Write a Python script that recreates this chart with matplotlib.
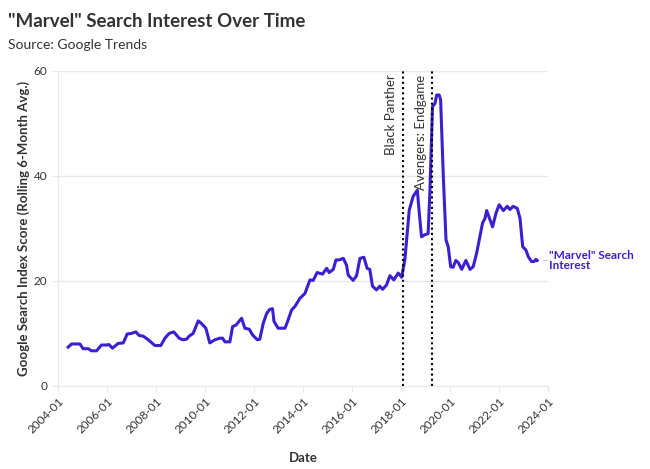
import matplotlib.pyplot as plt

plt.rcParams['font.family'] = ['Lato', 'DejaVu Sans']

# rolling 6-month avg of Google Trends score for "Marvel" (decimal year, value)
years = [2004.42, 2004.56, 2004.9, 2005.03, 2005.24, 2005.37, 2005.58, 2005.78, 2005.99,
         2006.08, 2006.23, 2006.46, 2006.67, 2006.83, 2007.0, 2007.18, 2007.32, 2007.48,
         2007.69, 2007.96, 2008.2, 2008.37, 2008.54, 2008.73, 2008.95, 2009.09, 2009.25,
         2009.36, 2009.52, 2009.73, 2009.86, 2010.04, 2010.2, 2010.41, 2010.61, 2010.72,
         2010.82, 2011.02, 2011.13, 2011.27, 2011.5, 2011.63, 2011.81, 2011.95, 2012.14,
         2012.24, 2012.38, 2012.52, 2012.65, 2012.76, 2012.82, 2012.99, 2013.27, 2013.4,
         2013.54, 2013.67, 2013.88, 2014.08, 2014.29, 2014.42, 2014.58, 2014.8, 2014.97,
         2015.07, 2015.24, 2015.35, 2015.48, 2015.65, 2015.78, 2015.85, 2016.05, 2016.19,
         2016.33, 2016.49, 2016.62, 2016.73, 2016.84, 2017.0, 2017.14, 2017.25, 2017.41,
         2017.55, 2017.71, 2017.89, 2018.03, 2018.16, 2018.34, 2018.5, 2018.67, 2018.75,
         2018.84, 2018.98, 2019.11, 2019.18, 2019.29, 2019.39, 2019.46, 2019.56, 2019.62,
         2019.73, 2019.84, 2019.93, 2020.03, 2020.13, 2020.24, 2020.34, 2020.48, 2020.65,
         2020.82, 2020.95, 2021.09, 2021.22, 2021.33, 2021.43, 2021.5, 2021.6, 2021.74,
         2021.88, 2022.01, 2022.18, 2022.34, 2022.45, 2022.58, 2022.75, 2022.86, 2022.97,
         2023.1, 2023.2, 2023.33, 2023.43, 2023.51, 2023.56]
interest = [7.4, 8.0, 8.0, 7.1, 7.1, 6.7, 6.7, 7.8, 7.8,
            7.9, 7.2, 8.1, 8.2, 9.9, 10.0, 10.3, 9.6, 9.5,
            8.8, 7.7, 7.7, 9.1, 10.0, 10.3, 9.1, 8.8, 8.9,
            9.5, 10.0, 12.4, 11.9, 11.0, 8.2, 8.8, 9.1, 9.1,
            8.4, 8.4, 11.3, 11.6, 12.9, 11.0, 10.8, 9.7, 8.8,
            8.9, 11.9, 13.8, 14.6, 14.7, 12.3, 11.0, 11.0, 12.6,
            14.5, 15.1, 16.7, 17.6, 20.2, 20.1, 21.6, 21.3, 22.4,
            21.6, 22.2, 24.0, 24.0, 24.3, 23.0, 21.1, 20.1, 21.0,
            24.3, 24.5, 22.4, 22.2, 19.0, 18.3, 19.0, 18.4, 19.2,
            21.0, 20.2, 21.5, 20.7, 24.0, 33.5, 36.1, 37.3, 32.9,
            28.4, 28.8, 29.0, 36.7, 53.2, 53.8, 55.4, 55.4, 54.5,
            39.9, 27.8, 26.5, 22.7, 22.6, 23.9, 23.5, 22.2, 23.9,
            22.2, 22.7, 25.3, 28.4, 31.0, 31.9, 33.4, 32.1, 30.3,
            32.9, 34.5, 33.4, 34.2, 33.6, 34.2, 33.8, 31.9, 26.5,
            25.9, 24.6, 23.7, 23.7, 24.1, 23.9]

events = ['Black Panther', 'Avengers: Endgame']
event_years = [2018.08, 2019.27]

tick_years = list(range(2004, 2025, 2))

line_color = '#3b1fd1'
grey = '#e8e8e8'
text_color = '#333333'

fig = plt.figure(figsize=(6.5, 4.69), dpi=100)
ax = fig.add_axes([0.089, 0.177, 0.754, 0.672])

ax.plot(years, interest, color=line_color, lw=2.2, solid_joinstyle='round')

for name, yr in zip(events, event_years):
    ax.axvline(yr, color='black', ls=(0, (1, 1.5)), lw=1.5)
    ax.text(yr - 0.22, 59.3, name, rotation=90, ha='right', va='top',
            fontsize=9.5, color=text_color)

# series label at the end of the line
ax.plot([years[-1] + 0.25, years[-1] + 0.4], [interest[-1], interest[-1]],
        color='#cccccc', lw=0.8, clip_on=False)
ax.text(years[-1] + 0.5, interest[-1], '"Marvel" Search\nInterest', color=line_color,
        fontsize=8.5, fontweight='bold', va='center', ha='left', linespacing=0.9)

ax.set_xlim(2004, 2024)
ax.set_ylim(0, 60)
ax.set_xticks(tick_years)
ax.set_xticklabels([f'{y}-01' for y in tick_years], rotation=45, ha='right',
                   rotation_mode='anchor', fontsize=8.5, color=text_color)
ax.set_yticks([0, 20, 40, 60])
ax.tick_params(axis='y', labelsize=8.5, labelcolor=text_color, color=grey, length=4)
ax.tick_params(axis='x', color=grey, length=4, pad=3)
ax.grid(axis='y', color=grey, lw=1)
ax.set_axisbelow(True)
for side in ['top', 'right']:
    ax.spines[side].set_visible(False)
for side in ['left', 'bottom']:
    ax.spines[side].set_color(grey)

ax.set_xlabel('Date', fontsize=9.5, fontweight='bold', color=text_color, labelpad=12)
ax.set_ylabel('Google Search Index Score (Rolling 6-Month Avg.)', fontsize=9.5,
              fontweight='bold', color=text_color, labelpad=3)

fig.text(0.012, 0.955, '"Marvel" Search Interest Over Time', fontsize=13.5,
         fontweight='bold', color=text_color, va='center')
fig.text(0.012, 0.905, 'Source: Google Trends', fontsize=10, color=text_color, va='center')

fig.savefig('out.png', dpi=100)
